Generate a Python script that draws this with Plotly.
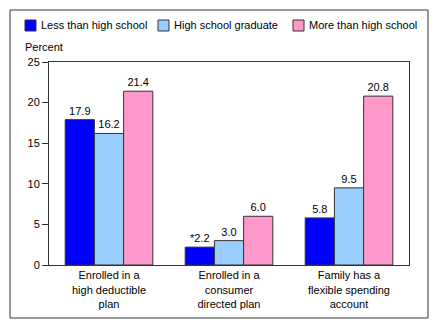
import plotly.graph_objects as go

categories = ["Enrolled in a<br>high deductible<br>plan", "Enrolled in a<br>consumer<br>directed plan", "Family has a<br>flexible spending<br>account"]
less_hs = [17.9, 2.2, 5.8]
hs_grad = [16.2, 3.0, 9.5]
more_hs = [21.4, 6.0, 20.8]
less_hs_labels = ["17.9", "*2.2", "5.8"]
series_names = ["Less than high school", "High school graduate", "More than high school"]
colors = ["#0000FF", "#99CCFF", "#FF99CC"]
y_ticks = [0, 5, 10, 15, 20, 25]

# layout geometry (pixels)
L, R, T, B = 49, 409, 62, 265
PW, PH = R - L, B - T
def px(x):
    return (x - L) / PW
def py(y):
    return (B - y) / PH

fig = go.Figure()
for name, vals, col, labels in [
    (series_names[0], less_hs, colors[0], less_hs_labels),
    (series_names[1], hs_grad, colors[1], [f"{v:.1f}" for v in hs_grad]),
    (series_names[2], more_hs, colors[2], [f"{v:.1f}" for v in more_hs]),
]:
    fig.add_trace(go.Bar(
        x=categories, y=vals, name=name,
        marker=dict(color=col, line=dict(color="#333333", width=1)),
        text=labels, textposition="outside", cliponaxis=False,
        textfont=dict(size=11, color="black"),
    ))

shapes = [dict(type="rect", xref="paper", yref="paper", x0=px(10), x1=px(428), y0=py(318), y1=py(10),
               line=dict(color="#333333", width=1))]
annotations = [dict(text="Percent", xref="paper", yref="paper", x=px(23), y=py(47),
                    xanchor="left", yanchor="middle", showarrow=False, font=dict(size=11))]
swatch_x = [25, 158, 293]
for sx, name, col in zip(swatch_x, series_names, colors):
    shapes.append(dict(type="rect", xref="paper", yref="paper", x0=px(sx), x1=px(sx + 11),
                       y0=py(31), y1=py(20), fillcolor=col, line=dict(color="#333333", width=1)))
    annotations.append(dict(text=name, xref="paper", yref="paper", x=px(sx + 14), y=py(25.5),
                            xanchor="left", yanchor="middle", showarrow=False, font=dict(size=11)))

fig.update_layout(
    width=440, height=330,
    margin=dict(l=L, r=440 - R, t=T, b=330 - B, autoexpand=False),
    paper_bgcolor="white", plot_bgcolor="white",
    barmode="group", bargap=0.27, bargroupgap=0,
    font=dict(family="Liberation Sans, Arial, sans-serif", size=11, color="black"),
    showlegend=False,
    xaxis=dict(showline=True, linecolor="#333333", mirror=True, ticks="", tickfont=dict(size=11)),
    yaxis=dict(range=[0, 25], tickvals=y_ticks, showline=True, linecolor="#333333", mirror=True,
               ticks="outside", ticklen=6, tickcolor="#333333", showgrid=False, zeroline=False,
               tickfont=dict(size=11)),
    annotations=annotations,
    shapes=shapes,
)

fig.write_html("out.html")
